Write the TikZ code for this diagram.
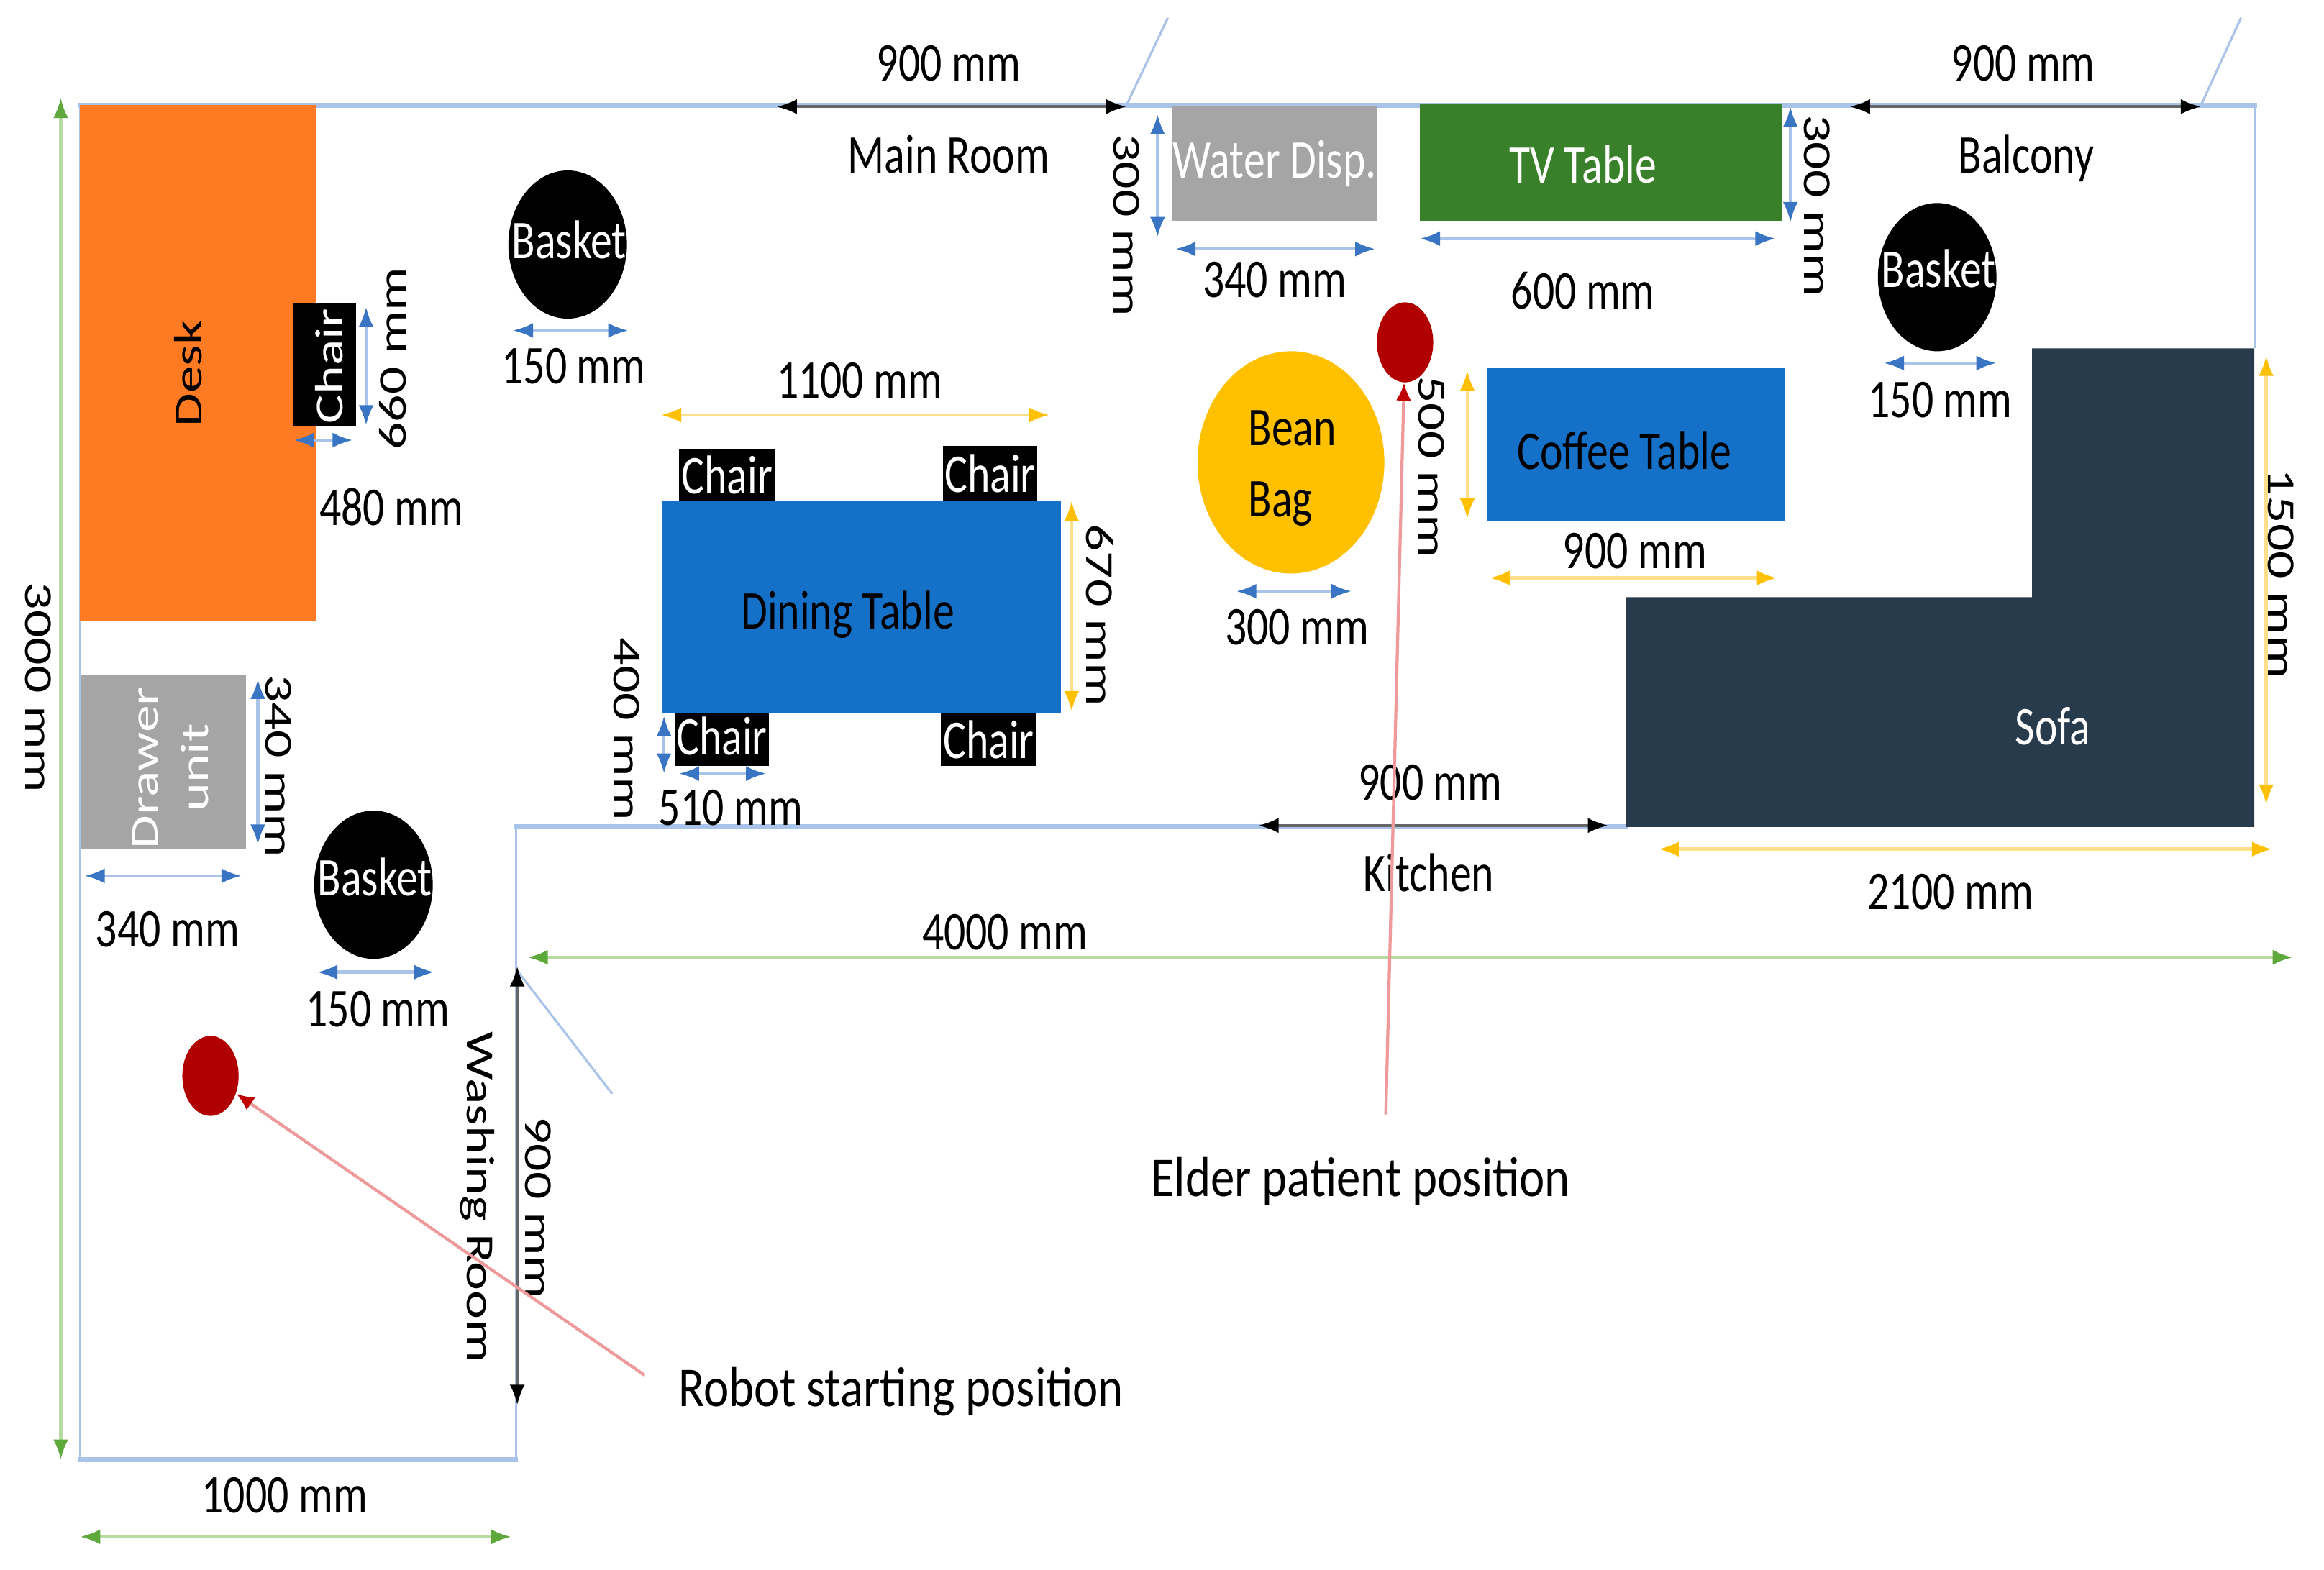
\documentclass[tikz,border=0pt]{standalone}
\usepackage{fontspec}
\setmainfont{Carlito}
\usetikzlibrary{arrows.meta,shapes.geometric}
\definecolor{wallblue}{HTML}{A9C4E8}
\definecolor{tipblue}{HTML}{3A75C4}
\definecolor{lineyellow}{HTML}{FFE08A}
\definecolor{tipyellow}{HTML}{FFC000}
\definecolor{linegreen}{HTML}{B5DBA0}
\definecolor{tipgreen}{HTML}{5FA83C}
\definecolor{linered}{HTML}{EE9A9A}
\definecolor{tipred}{HTML}{C00000}
\definecolor{deskorange}{HTML}{FF7B23}
\definecolor{unitgrey}{HTML}{A5A5A5}
\definecolor{tablegreen}{HTML}{38802A}
\definecolor{tableblue}{HTML}{1570C8}
\definecolor{sofanavy}{HTML}{283B4C}
\definecolor{dotred}{HTML}{B00000}
\def\uu{0.020606cm}
% the reference is stretched vertically: upright text is taller, turned text longer
\newcommand{\hs}[1]{\scalebox{1}[1.27]{#1}}
\newcommand{\vs}[1]{\scalebox{1.27}[0.92]{#1}}
\newcommand{\hl}[1]{\scalebox{1}[1.17]{#1}}
\tikzset{
  base/.style={font=\fontsize{17}{20}\selectfont},
  txt/.style={base,inner sep=0pt,text=black},
  bigtxt/.style={font=\fontsize{19}{22}\selectfont,inner sep=0pt,text=black},
  wtxt/.style={base,inner sep=0pt,text=white},
  furn/.style={rectangle,inner sep=0pt,draw=none},
  disc/.style={ellipse,inner sep=0pt,draw=none,fill=black},
  wallh/.style={draw=wallblue,line width=1.9pt,line cap=rect},
  wallv/.style={draw=wallblue,line width=0.9pt},
  door/.style={draw=wallblue,line width=0.9pt},
  dimblue/.style={draw=wallblue,line width=1.3pt,{Latex[length=8pt,width=6pt,color=tipblue]}-{Latex[length=8pt,width=6pt,color=tipblue]}},
  dimyellow/.style={draw=lineyellow,line width=1.3pt,{Latex[length=8pt,width=6pt,color=tipyellow]}-{Latex[length=8pt,width=6pt,color=tipyellow]}},
  dimgreen/.style={draw=linegreen,line width=1.3pt,{Latex[length=8pt,width=6pt,color=tipgreen]}-{Latex[length=8pt,width=6pt,color=tipgreen]}},
  dimblack/.style={draw=black!60,line width=1.1pt,{Latex[length=8pt,width=6pt,color=black]}-{Latex[length=8pt,width=6pt,color=black]}},
  pointer/.style={draw=linered,line width=1.2pt,-{Latex[length=7pt,width=6pt,color=tipred]}},
}
\newcommand{\roomitem}[7]{%
  \pgfmathsetmacro\cxx{(#3+#5)/2}\pgfmathsetmacro\cyy{(#4+#6)/2}%
  \pgfmathsetmacro\wdd{#5-#3}\pgfmathsetmacro\htt{#6-#4}%
  \node[furn,#2,minimum width=\wdd*\uu,minimum height=\htt*\uu] (#1) at (\cxx,\cyy) {#7};}
\newcommand{\roundthing}[6]{%
  \node[disc,#2,minimum width=#5*\uu,minimum height=#6*\uu] (#1) at (#3,#4) {};}
\newcommand{\dimline}[4]{%
  \coordinate (#2a) at #3; \coordinate (#2b) at #4; \draw[#1] (#2a) -- (#2b);}
\begin{document}
\begin{tikzpicture}[x=\uu,y=-\uu]
\path[use as bounding box,fill=white] (0,0) rectangle (1568,1059);
% walls
\coordinate (w1) at (54,71); \coordinate (w2) at (54,985); \coordinate (w3) at (348,985);
\coordinate (w4) at (348,558); \coordinate (w5) at (1097,558); \coordinate (w6) at (1521,235);
\coordinate (w7) at (1521,71);
\draw[wallh] (w1) -- (w7);
\draw[wallh] (w2) -- (w3);
\draw[wallh] (w4) -- (w5);
\draw[wallv] (w1) -- (w2);
\draw[wallv] (w3) -- (w4);
\draw[wallv] (w7) -- (w6);
% doors
\coordinate (d1a) at (760,71); \coordinate (d1b) at (788,12); \draw[door] (d1a) -- (d1b);
\coordinate (d2a) at (1485,71); \coordinate (d2b) at (1512,12); \draw[door] (d2a) -- (d2b);
\coordinate (d3a) at (349,655); \coordinate (d3b) at (413,738); \draw[door] (d3a) -- (d3b);
% furniture
\roomitem{desk}{fill=deskorange}{54}{71}{213}{419}{}
\node[txt,rotate=90] (desktxt) at (127,252) {\vs{Desk}};
\roomitem{sidechair}{fill=black}{198}{205}{240}{288}{}
\node[wtxt,rotate=90] (sidechairtxt) at (222,247) {\vs{Chair}};
\roomitem{drawer}{fill=unitgrey}{55}{455}{166}{573}{}
\node[wtxt,rotate=90,align=center] (drawertxt) at (115,518) {\vs{Drawer}\\\vs{unit}};
\roomitem{dining}{fill=tableblue}{447}{338}{716}{481}{}
\node[txt] (diningtxt) at (572,415) {\hs{Dining Table}};
\roomitem{chairtl}{fill=black,text=white,base}{458}{303}{523}{338}{\hs{Chair}}
\roomitem{chairtr}{fill=black,text=white,base}{636}{301}{700}{338}{\hs{Chair}}
\roomitem{chairbl}{fill=black,text=white,base}{455}{481}{519}{517}{\raisebox{3pt}{\hs{Chair}}}
\roomitem{chairbr}{fill=black,text=white,base}{635}{481}{699}{517}{\hs{Chair}}
\roomitem{water}{fill=unitgrey,text=white,base}{791}{72}{929}{149}{\raisebox{-3pt}{\hs{Water Disp.}}}
\roomitem{tvtable}{fill=tablegreen}{958}{70}{1202}{149}{}
\node[wtxt] (tvtxt) at (1068,111) {\hs{TV Table}};
\roomitem{coffee}{fill=tableblue}{1003}{248}{1204}{352}{}
\node[txt] (coffeetxt) at (1096,304) {\hs{Coffee Table}};
\fill[sofanavy] (1097,403) -- (1371,403) -- (1371,235) -- (1521,235) -- (1521,558) -- (1097,558) -- cycle;
\node[wtxt] (sofatxt) at (1385,490) {\hs{Sofa}};
% round things
\roundthing{basketa}{}{383}{165}{80}{100}
\node[wtxt] (basketatxt) at (384,162) {\hs{Basket}};
\roundthing{basketb}{}{252}{597}{80}{100}
\node[wtxt] (basketbtxt) at (253,592) {\hs{Basket}};
\roundthing{basketc}{}{1307}{187}{80}{100}
\node[wtxt] (basketctxt) at (1308,181) {\hs{Basket}};
\roundthing{bean}{fill=tipyellow}{871}{312}{126}{150}
\node[txt,align=left,font=\fontsize{17}{26}\selectfont] (beantxt) at (872,316) {\hs{Bean}\\[2pt]\hs{Bag}};
\roundthing{robotdot}{fill=dotred}{142}{726}{38}{54}
\roundthing{elderdot}{fill=dotred}{948}{231}{38}{54}
% blue dimensions
\dimline{dimblue}{ba}{(247,207)}{(247,287)}
\dimline{dimblue}{bb}{(198,297)}{(238,297)}
\dimline{dimblue}{bc}{(346,223)}{(424,223)}
\dimline{dimblue}{bd}{(174,458)}{(174,570)}
\dimline{dimblue}{be}{(57,591)}{(163,591)}
\dimline{dimblue}{bf}{(214,656)}{(293,656)}
\dimline{dimblue}{bg}{(448,483)}{(448,522)}
\dimline{dimblue}{bh}{(458,522)}{(517,522)}
\dimline{dimblue}{bi}{(781,77)}{(781,160)}
\dimline{dimblue}{bj}{(793,168)}{(928,168)}
\dimline{dimblue}{bk}{(958,161)}{(1198,161)}
\dimline{dimblue}{bl}{(1208,72)}{(1208,150)}
\dimline{dimblue}{bm}{(834,399)}{(912,399)}
\dimline{dimblue}{bn}{(1271,245)}{(1347,245)}
% yellow dimensions
\dimline{dimyellow}{ya}{(446,280)}{(708,280)}
\dimline{dimyellow}{yb}{(723,338)}{(723,480)}
\dimline{dimyellow}{yc}{(990,250)}{(990,350)}
\dimline{dimyellow}{yd}{(1005,390)}{(1199,390)}
\dimline{dimyellow}{ye}{(1529,240)}{(1529,543)}
\dimline{dimyellow}{yf}{(1119,573)}{(1533,573)}
% green dimensions
\dimline{dimgreen}{ga}{(41,66)}{(41,985)}
\dimline{dimgreen}{gb}{(54,1037)}{(345,1037)}
\dimline{dimgreen}{gc}{(356,646)}{(1547,646)}
% black dimensions
\dimline{dimblack}{ka}{(524,72)}{(760,72)}
\dimline{dimblack}{kb}{(1248,72)}{(1485,72)}
\dimline{dimblack}{kc}{(849,557)}{(1085,557)}
\dimline{dimblack}{kd}{(349,652)}{(349,948)}
% labels
\node[txt,rotate=90] (t660) at (265,242) {\vs{660 mm}};
\node[txt] (t480) at (264,342) {\hs{480 mm}};
\node[txt] (t150a) at (387,247) {\hs{150 mm}};
\node[txt,rotate=-90] (t340a) at (188,517) {\vs{340 mm}};
\node[txt] (t340b) at (113,627) {\hs{340 mm}};
\node[txt] (t150b) at (255,681) {\hs{150 mm}};
\node[txt,rotate=-90] (t400) at (423,492) {\vs{400 mm}};
\node[txt] (t510) at (493,545) {\hs{510 mm}};
\node[txt] (t1100) at (580,257) {\hs{1100 mm}};
\node[txt,rotate=-90] (t670) at (742,415) {\vs{670 mm}};
\node[txt] (t900a) at (640,43) {\hs{900 mm}};
\node[txt] (mainroom) at (640,104) {\hs{Main Room}};
\node[txt,rotate=-90] (t300a) at (760,152) {\vs{300 mm}};
\node[txt] (t340c) at (860,189) {\hs{340 mm}};
\node[txt] (t600) at (1068,196) {\hs{600 mm}};
\node[txt,rotate=-90] (t300b) at (1226,139) {\vs{300 mm}};
\node[txt] (t300c) at (875,423) {\hs{300 mm}};
\node[txt,rotate=-90] (t500) at (966,315) {\vs{500 mm}};
\node[txt] (t900b) at (1103,372) {\hs{900 mm}};
\node[txt] (t900c) at (1365,43) {\hs{900 mm}};
\node[txt] (balcony) at (1367,107) {\hs{Balcony}};
\node[txt] (t150c) at (1309,270) {\hs{150 mm}};
\node[txt,rotate=-90] (t1500) at (1539,387) {\vs{1500 mm}};
\node[txt] (t2100) at (1316,602) {\hs{2100 mm}};
\node[txt] (t900d) at (965,528) {\hs{900 mm}};
\node[txt] (kitchen) at (964,589) {\hs{Kitchen}};
\node[txt] (t4000) at (678,629) {\hs{4000 mm}};
\node[txt,rotate=-90] (t3000) at (26,464) {\vs{3000 mm}};
\node[txt] (t1000) at (192,1009) {\hs{1000 mm}};
\node[txt,rotate=-90] (washing) at (322,808) {\vs{Washing Room}};
\node[txt,rotate=-90] (t900e) at (363,815) {\vs{900 mm}};
\node[bigtxt] (robotlabel) at (608,939) {\hl{Robot starting position}};
\node[bigtxt] (elderlabel) at (918,797) {\hl{Elder patient position}};
% pointers
\coordinate (robotfoot) at (435,928);
\draw[pointer] (robotfoot) -- (robotdot);
\coordinate (elderfoot) at (935,752);
\draw[pointer] (elderfoot) -- (elderdot);
\end{tikzpicture}
\end{document}
